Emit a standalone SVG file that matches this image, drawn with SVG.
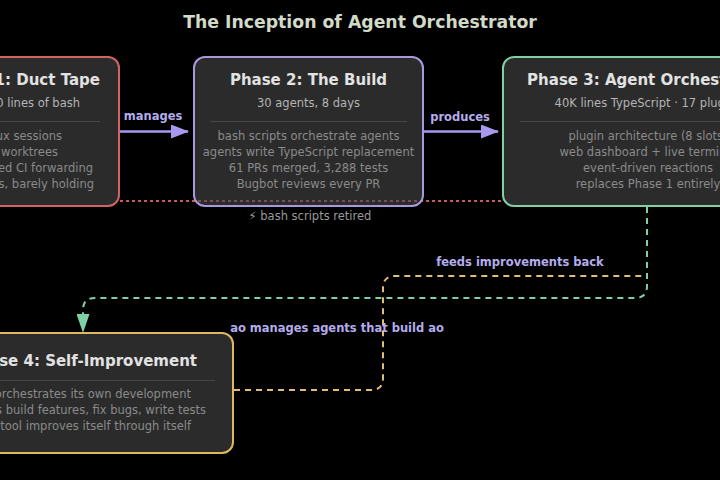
<svg xmlns="http://www.w3.org/2000/svg" width="720" height="480" viewBox="0 0 720 480">
<style>
.t{font-family:"DejaVu Sans",sans-serif}
.title{font-size:17.3px;font-weight:bold;fill:#d2dac8}
.bt{font-size:15px;font-weight:bold;fill:#e2e2e2}
.sub{font-size:11.5px;fill:#b4b4b4}
.body{font-size:11.5px;fill:#8a8a8a}
.lbl{font-size:11.5px;font-weight:bold;fill:#b4acec}
.note{font-size:11.5px;fill:#9a9a9a}
.box{fill:#474747;fill-opacity:0.6;stroke-width:2}
.sep{stroke:#464646;stroke-width:1}
</style>
<defs>
<marker id="ap" markerWidth="18" markerHeight="14" refX="17" refY="7" orient="auto" markerUnits="userSpaceOnUse"><path d="M0,0 L18,7 L0,14 Z" fill="#a898f0"/></marker>
<marker id="ag" markerWidth="19" markerHeight="13" refX="18" refY="6.5" orient="auto" markerUnits="userSpaceOnUse"><path d="M0,0 L19,6.5 L0,13 Z" fill="#7fd0a6"/></marker>
</defs>
<rect width="720" height="480" fill="#000"/>
<text class="t title" x="360" y="28" text-anchor="middle">The Inception of Agent Orchestrator</text>

<g id="connectors">
<line x1="120" y1="201" x2="503" y2="201" stroke="#c85a5a" stroke-width="2" stroke-dasharray="3,3"/>
<line x1="120" y1="131.5" x2="188" y2="131.5" stroke="#a898f0" stroke-width="2.5" marker-end="url(#ap)"/>
<line x1="424" y1="131.5" x2="498" y2="131.5" stroke="#a898f0" stroke-width="2.5" marker-end="url(#ap)"/>
<path d="M234,390 L371,390 Q383,390 383,378 L383,288 Q383,276 395,276 L645,276" fill="none" stroke="#e0bd78" stroke-width="2" stroke-dasharray="6,5"/>
<path d="M647,207 L647,286 Q647,298 635,298 L95,298 Q83,298 83,310 L83,332" fill="none" stroke="#7fd0a6" stroke-width="2" stroke-dasharray="6,5" marker-end="url(#ag)"/>
<text class="t lbl" x="153" y="120" text-anchor="middle">manages</text>
<text class="t lbl" x="460" y="121" text-anchor="middle">produces</text>
<text class="t lbl" x="520" y="266" text-anchor="middle">feeds improvements back</text>
<text class="t lbl" x="337" y="332" text-anchor="middle">ao manages agents that build ao</text>
<text class="t note" x="310" y="220" text-anchor="middle">⚡ bash scripts retired</text>
</g>

<g id="phase1">
<rect class="box" x="-80" y="57" width="199" height="149" rx="11" stroke="#d06464"/>
<text class="t bt" x="100" y="85" text-anchor="end">Phase 1: Duct Tape</text>
<text class="t sub" x="80" y="107" text-anchor="end">~2,000 lines of bash</text>
<line class="sep" x1="-60" y1="121.5" x2="100" y2="121.5"/>
<text class="t body" x="62" y="140" text-anchor="end">tmux sessions</text>
<text class="t body" x="58" y="156" text-anchor="end">git worktrees</text>
<text class="t body" x="93" y="172" text-anchor="end">automated CI forwarding</text>
<text class="t body" x="94" y="188" text-anchor="end">scripts, barely holding</text>
</g>

<g id="phase2">
<rect class="box" x="194" y="57" width="229" height="149" rx="11" stroke="#a898e0"/>
<text class="t bt" x="308.5" y="85" text-anchor="middle">Phase 2: The Build</text>
<text class="t sub" x="308.5" y="107" text-anchor="middle">30 agents, 8 days</text>
<line class="sep" x1="210" y1="121.5" x2="407" y2="121.5"/>
<text class="t body" x="308.5" y="140" text-anchor="middle">bash scripts orchestrate agents</text>
<text class="t body" x="308.5" y="156" text-anchor="middle">agents write TypeScript replacement</text>
<text class="t body" x="308.5" y="172" text-anchor="middle">61 PRs merged, 3,288 tests</text>
<text class="t body" x="308.5" y="188" text-anchor="middle">Bugbot reviews every PR</text>
</g>

<g id="phase3">
<rect class="box" x="503" y="57" width="290" height="149" rx="11" stroke="#80d0a4"/>
<text class="t bt" x="648" y="85" text-anchor="middle">Phase 3: Agent Orchestrator</text>
<text class="t sub" x="648" y="107" text-anchor="middle">40K lines TypeScript · 17 plugins</text>
<line class="sep" x1="520" y1="121.5" x2="776" y2="121.5"/>
<text class="t body" x="648" y="140" text-anchor="middle">plugin architecture (8 slots)</text>
<text class="t body" x="648" y="156" text-anchor="middle">web dashboard + live terminal</text>
<text class="t body" x="648" y="172" text-anchor="middle">event-driven reactions</text>
<text class="t body" x="648" y="188" text-anchor="middle">replaces Phase 1 entirely</text>
</g>

<g id="phase4">
<rect class="box" x="-67" y="333" width="300" height="120" rx="11" stroke="#e0b860"/>
<text class="t bt" x="197" y="366" text-anchor="end">Phase 4: Self-Improvement</text>
<line class="sep" x1="-50" y1="380.5" x2="215" y2="380.5"/>
<text class="t body" x="191" y="398" text-anchor="end">ao orchestrates its own development</text>
<text class="t body" x="206" y="414" text-anchor="end">agents build features, fix bugs, write tests</text>
<text class="t body" x="191" y="430" text-anchor="end">the tool improves itself through itself</text>
</g>
</svg>
